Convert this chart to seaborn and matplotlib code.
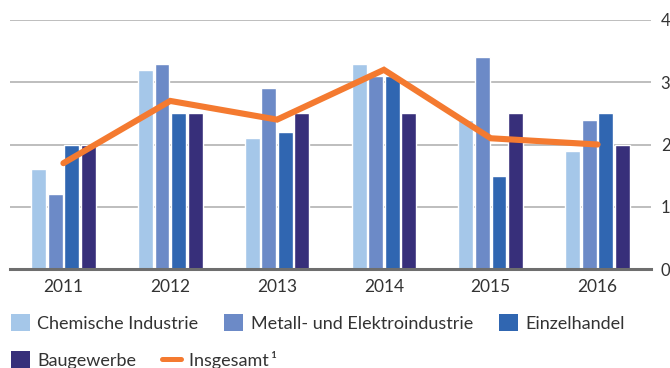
import numpy as np
import pandas as pd
import matplotlib
matplotlib.use("Agg")
import matplotlib.pyplot as plt
import seaborn as sns
from matplotlib.patches import Patch
from matplotlib.lines import Line2D

years = ["2011", "2012", "2013", "2014", "2015", "2016"]
chemie = [1.6, 3.2, 2.1, 3.3, 2.4, 1.9]
metall = [1.2, 3.3, 2.9, 3.1, 3.4, 2.4]
einzelhandel = [2.0, 2.5, 2.2, 3.1, 1.5, 2.5]
bau = [2.0, 2.5, 2.5, 2.5, 2.5, 2.0]
insgesamt = [1.7, 2.7, 2.4, 3.2, 2.1, 2.0]

series_names = ["Chemische Industrie", "Metall- und Elektroindustrie",
                "Einzelhandel", "Baugewerbe"]
colors = ["#A5C7E9", "#6C8AC7", "#3066B1", "#372F7A"]
line_color = "#F47A30"
line_label = "Insgesamt\u2009\u00b9"

sns.set_theme(style="white")
plt.rcParams["font.family"] = ["Lato", "DejaVu Sans"]
text_color = "#333333"

df = pd.DataFrame({
    "Jahr": years * 4,
    "Wert": chemie + metall + einzelhandel + bau,
    "Branche": sum([[n] * len(years) for n in series_names], []),
})

fig = plt.figure(figsize=(6.7, 3.68), dpi=100)
ax = fig.add_axes([10 / 670, 1 - 269 / 368, 641 / 670, 249 / 368])

sns.barplot(data=df, x="Jahr", y="Wert", hue="Branche", hue_order=series_names,
            palette=colors, width=0.62, gap=0.1, saturation=1,
            legend=False, ax=ax, zorder=3)
sns.lineplot(x=np.arange(len(years)), y=insgesamt, color=line_color,
             linewidth=4.4, ax=ax, zorder=4, solid_joinstyle="miter")

ax.set_xlim(-0.5, 5.5)
ax.set_ylim(0, 4)
ax.set_yticks([0, 1, 2, 3, 4])
ax.set_xticks(range(len(years)))
ax.set_xticklabels(years)
ax.set_xlabel("")
ax.set_ylabel("")
ax.yaxis.tick_right()
ax.grid(axis="y", color="#B3B3B3", linewidth=1.2, zorder=0)
ax.grid(axis="x", visible=False)
for side in ["top", "left", "right"]:
    ax.spines[side].set_visible(False)
ax.spines["bottom"].set_color("#6E6E6E")
ax.spines["bottom"].set_linewidth(2.2)
ax.spines["bottom"].set_zorder(5)
ax.tick_params(axis="y", length=0, pad=7, labelsize=12, labelcolor=text_color)
ax.tick_params(axis="x", length=0, pad=7, labelsize=12.5, labelcolor=text_color)

leg_kw = dict(frameon=False, fontsize=13, labelcolor=text_color,
              handlelength=1.05, handleheight=1.05, handletextpad=0.4,
              columnspacing=1.45, borderaxespad=0, borderpad=0)
row1 = [Patch(facecolor=c, edgecolor="none") for c in colors[:3]]
leg1 = fig.legend(row1, series_names[:3], ncol=3, loc="center left",
                  bbox_to_anchor=(11 / 670, 1 - 323 / 368), **leg_kw)
row2 = [Patch(facecolor=colors[3], edgecolor="none"),
        Line2D([0], [0], color=line_color, linewidth=3.6)]
leg2 = fig.legend(row2, [series_names[3], line_label], ncol=2, loc="center left",
                  bbox_to_anchor=(11 / 670, 1 - 360 / 368), **leg_kw)

fig.savefig("out.png", dpi=100)
